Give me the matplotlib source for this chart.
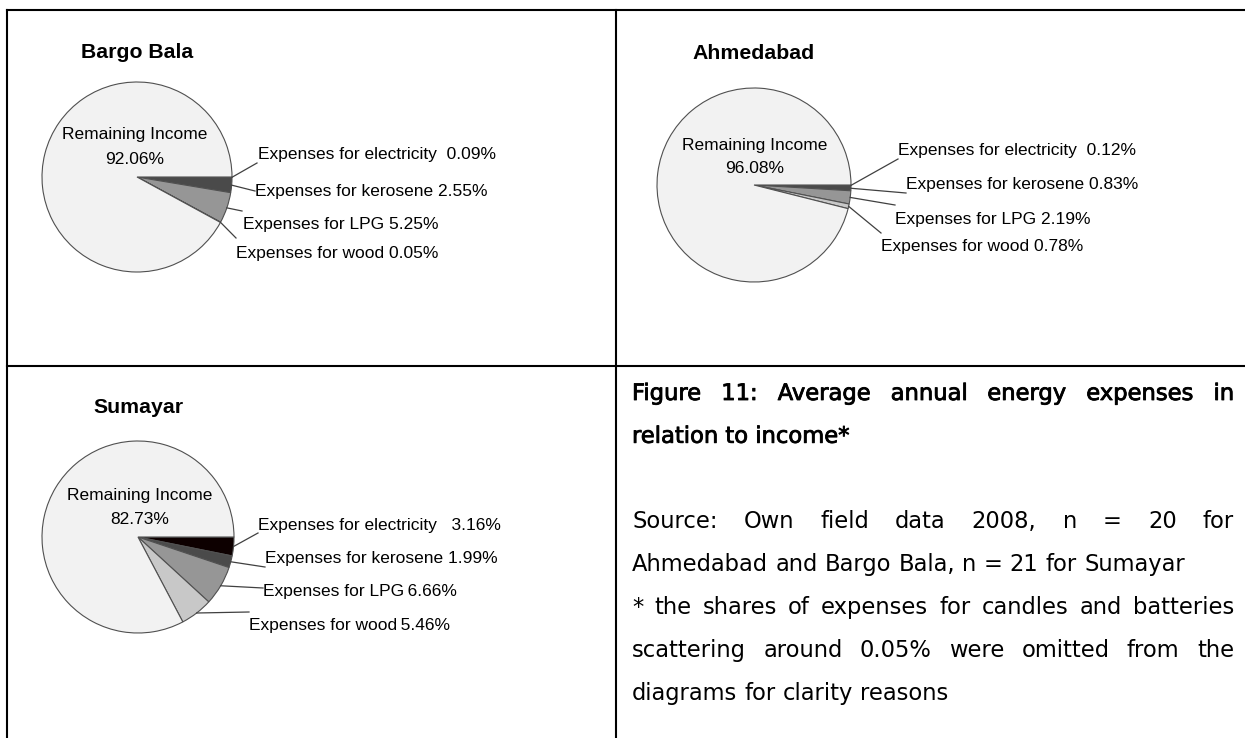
import matplotlib.pyplot as plt
import matplotlib.patheffects as pe
import numpy as np

# data
categories = ['electricity', 'kerosene', 'LPG', 'wood']
villages = ['Bargo Bala', 'Ahmedabad', 'Sumayar']
bargo_bala = [0.09, 2.55, 5.25, 0.05]
ahmedabad = [0.12, 0.83, 2.19, 0.78]
sumayar = [3.16, 1.99, 6.66, 5.46]
remaining = [92.06, 96.08, 82.73]

caption = [
    'Figure 11: Average annual energy expenses in',
    'relation to income*',
    '',
    'Source: Own field data 2008, n = 20 for',
    'Ahmedabad and Bargo Bala, n = 21 for Sumayar',
    '* the shares of expenses for candles and batteries',
    'scattering around 0.05% were omitted from the',
    'diagrams for clarity reasons',
]
caption_just = [True, False, False, True, False, True, True, False]
caption_bold = [True, True, False, False, False, False, False, False]

colors = ['#0d0000', '#4a4a4a', '#969696', '#c8c8c8', '#f2f2f2']

W, H = 1245, 738
fig = plt.figure(figsize=(W / 100, H / 100), dpi=100)
ax = fig.add_axes([0, 0, 1, 1])
renderer = fig.canvas.get_renderer()

LBL = 'Liberation Sans'

# layout per panel: pie centre, radius, title baseline, remaining-label baselines,
# and for each expense label: text x, baseline, leader end x, y, separator
layout = [
    dict(c=(137, 177), r=95, ty=58, ri=(135, 139, 164),
         lbl=[(258, 159, 257, 163, '  '), (255, 196, 255, 191, ' '),
              (243, 229, 242, 211, ' '), (236, 258, 236, 238, ' ')]),
    dict(c=(754, 185), r=97, ty=59, ri=(755, 150, 173),
         lbl=[(898, 155, 898, 159, '  '), (906, 189, 906, 193, ' '),
              (895, 224, 895, 205, ' '), (881, 251, 881, 233, ' ')]),
    dict(c=(138, 537), r=96, ty=413, ri=(140, 500, 524),
         lbl=[(258, 530, 258, 533, '   '), (265, 563, 265, 567, ' '),
              (263, 596, 263, 588, '\u2009'), (249, 630, 249, 612, '\u2009')]),
]

series = [bargo_bala, ahmedabad, sumayar]

for name, vals, rem, lay in zip(villages, series, remaining, layout):
    cx, cy = lay['c']
    r = lay['r']
    wedges, _ = ax.pie(vals + [rem], colors=colors, startangle=0, counterclock=True,
                       center=(cx, cy), radius=r, frame=True,
                       wedgeprops=dict(edgecolor='#505050', linewidth=0.8))
    ax.text(cx, lay['ty'], name, ha='center', va='baseline', fontsize=15.3,
            fontweight='bold', family=LBL)
    rx, ry1, ry2 = lay['ri']
    ax.text(rx, ry1, 'Remaining Income', ha='center', va='baseline', fontsize=12.5, family=LBL)
    ax.text(rx, ry2, f'{rem:.2f}%', ha='center', va='baseline', fontsize=12.5, family=LBL)
    for w, cat, v, (tx, ty, ex, ey, sep) in zip(wedges, categories, vals, lay['lbl']):
        mid = np.deg2rad((w.theta1 + w.theta2) / 2)
        sx, sy = cx + r * np.cos(mid), cy + r * np.sin(mid)
        ax.plot([sx, ex], [sy, ey], color='#404040', lw=0.9)
        ax.text(tx, ty, f'Expenses for {cat}{sep}{v:.2f}%', ha='left', va='baseline',
                fontsize=12.5, family=LBL)

# table frame
lw = 1.5
ax.plot([7, W], [10, 10], color='black', lw=lw)
ax.plot([7, W], [366, 366], color='black', lw=lw)
ax.plot([7, 7], [10, H], color='black', lw=lw)
ax.plot([616, 616], [10, H], color='black', lw=lw)


def text_width(s, kw):
    t = ax.text(0, 0, s, **kw)
    wd = t.get_window_extent(renderer).width
    t.remove()
    return wd


# caption, justified like the document
x0, x1 = 632, 1234
y = 400
step = 42.8
for line, just, bold in zip(caption, caption_just, caption_bold):
    if line:
        kw = dict(fontsize=16.3, family='DejaVu Sans', va='baseline', ha='left')
        if bold:
            kw['path_effects'] = [pe.withStroke(linewidth=0.6, foreground='black')]
        words = line.split(' ')
        widths = [text_width(wd, kw) for wd in words]
        if just:
            gap = (x1 - x0 - sum(widths)) / (len(words) - 1)
        else:
            gap = 0.318 * kw['fontsize'] * 100 / 72
        x = x0
        for wd, wdt in zip(words, widths):
            ax.text(x, y, wd, **kw)
            x += wdt + gap
    y += step

ax.set_xlim(0, W)
ax.set_ylim(H, 0)
ax.set_aspect('equal')
ax.axis('off')

plt.savefig('out.png', dpi=100)
